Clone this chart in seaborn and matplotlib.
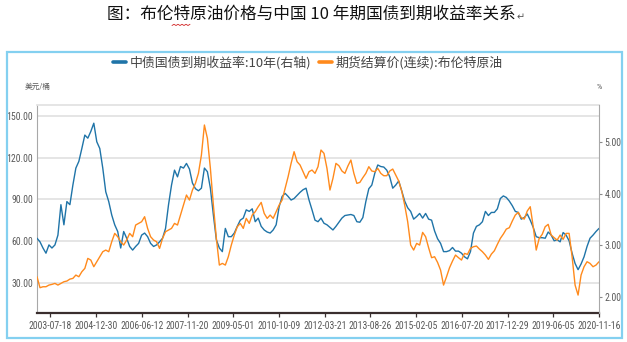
import numpy as np
import pandas as pd
import matplotlib
matplotlib.use("Agg")
import matplotlib.pyplot as plt
import matplotlib.dates as mdates
from matplotlib import font_manager as fm
from matplotlib.lines import Line2D
from matplotlib.patches import Rectangle
from matplotlib.font_manager import FontProperties
import seaborn as sns

# ---------------- data ----------------
title = "图：布伦特原油价格与中国 10 年期国债到期收益率关系"
name_yield = "中债国债到期收益率:10年(右轴)"
name_brent = "期货结算价(连续):布伦特原油"
left_unit = "美元/桶"
right_unit = "%"
start_date = "2003-02-18"
end_date = "2020-11-16"
tick_dates = ["2003-07-18", "2004-12-30", "2006-06-12", "2007-11-20", "2009-05-01",
              "2010-10-09", "2012-03-21", "2013-08-26", "2015-02-05", "2016-07-20",
              "2017-12-29", "2019-06-05", "2020-11-16"]
left_ticks = [30, 60, 90, 120, 150]
right_ticks = [2, 3, 4, 5]

yield_10y = [
    3.14, 3.07, 2.95, 2.85, 3.01, 2.95, 3.01, 3.20, 3.79, 3.40,
    3.85, 3.79, 4.17, 4.50, 4.63, 4.88, 5.14, 5.08, 5.21, 5.37,
    5.01, 4.88, 4.50, 4.04, 3.85, 3.59, 3.40, 3.27, 2.95, 3.27,
    3.14, 2.98, 2.91, 2.98, 3.04, 3.20, 3.24, 3.17, 3.04, 2.98,
    3.01, 3.07, 3.14, 3.33, 3.79, 4.17, 4.46, 4.33, 4.53, 4.50,
    4.59, 4.48, 4.21, 4.10, 4.06, 4.11, 4.50, 4.43, 4.11, 3.59,
    3.11, 2.95, 2.88, 3.33, 3.17, 3.17, 3.24, 3.37, 3.49, 3.53,
    3.69, 3.66, 3.71, 3.46, 3.53, 3.37, 3.30, 3.26, 3.24, 3.30,
    3.40, 3.75, 3.95, 4.01, 3.95, 3.88, 3.91, 3.97, 4.03, 4.08,
    4.11, 3.88, 3.69, 3.49, 3.46, 3.53, 3.43, 3.40, 3.35, 3.30,
    3.37, 3.45, 3.53, 3.58, 3.59, 3.60, 3.58, 3.46, 3.45, 3.54,
    3.85, 4.10, 4.17, 4.40, 4.56, 4.53, 4.52, 4.46, 4.33, 4.11,
    4.17, 4.25, 4.06, 3.86, 3.73, 3.66, 3.51, 3.56, 3.62, 3.53,
    3.62, 3.51, 3.49, 3.28, 3.13, 3.04, 2.88, 2.88, 2.90, 2.96,
    2.89, 2.89, 2.85, 2.78, 2.74, 2.88, 3.24, 3.37, 3.40, 3.46,
    3.66, 3.58, 3.64, 3.64, 3.71, 3.91, 3.96, 3.93, 3.86, 3.77,
    3.66, 3.64, 3.51, 3.54, 3.61, 3.49, 3.35, 3.17, 3.15, 3.15,
    3.14, 3.26, 3.20, 3.09, 3.11, 3.07, 3.25, 3.20, 3.09, 2.85,
    2.65, 2.53, 2.64, 2.78, 2.98, 3.14, 3.20, 3.27, 3.33,
]

brent = [
    34.3, 26.4, 27.1, 27.1, 28.3, 28.8, 29.5, 28.3, 29.5, 30.7,
    31.2, 32.6, 33.1, 35.5, 34.3, 37.9, 40.3, 47.5, 46.3, 41.5,
    45.1, 48.7, 52.3, 53.5, 52.3, 59.5, 65.5, 63.1, 59.5, 57.1,
    60.7, 65.5, 63.1, 71.5, 72.7, 73.9, 77.5, 69.1, 63.1, 60.7,
    59.5, 54.7, 61.9, 66.7, 67.9, 69.1, 72.7, 71.5, 78.7, 85.9,
    93.1, 89.5, 96.7, 101.5, 108.7, 121.9, 143.5, 133.9, 112.3, 85.9,
    61.9, 42.7, 43.9, 42.7, 48.7, 57.1, 64.3, 70.3, 72.7, 69.1,
    76.3, 72.7, 78.7, 81.1, 84.7, 87.8, 79.9, 76.3, 78.7, 76.3,
    81.1, 85.9, 89.5, 97.9, 106.3, 115.9, 124.3, 117.1, 114.7, 109.9,
    105.1, 109.9, 111.1, 108.7, 113.5, 125.5, 123.1, 112.3, 96.7, 105.1,
    115.9, 114.2, 110.4, 108.7, 114.0, 118.3, 108.7, 101.5, 102.2, 105.6,
    108.7, 113.5, 110.4, 109.9, 112.3, 108.7, 107.0, 107.0, 110.4, 111.8,
    107.5, 103.2, 96.0, 85.9, 73.9, 57.1, 53.5, 58.3, 57.1, 66.2,
    63.1, 55.2, 48.0, 48.7, 44.6, 39.1, 28.3, 34.3, 40.8, 45.6,
    49.9, 48.0, 46.3, 51.1, 50.4, 54.7, 55.9, 56.4, 54.2, 52.3,
    49.9, 46.8, 50.6, 53.0, 57.6, 61.9, 65.0, 68.6, 69.6, 74.4,
    78.7, 80.6, 76.8, 75.8, 81.6, 84.7, 70.3, 53.5, 61.9, 64.8,
    70.3, 72.0, 64.3, 62.4, 60.7, 64.3, 61.2, 65.5, 65.5, 48.7,
    28.3, 21.1, 35.5, 41.5, 45.1, 43.9, 41.5, 42.7, 45.1,
]

dates = pd.date_range(start_date, end_date, periods=len(brent))
df = pd.DataFrame({"date": dates, "brent": brent, "yield": yield_10y})

# ---------------- fonts ----------------
sns.set_theme(style="white")
CJK = ["Noto Sans CJK SC", "DejaVu Sans"]


def pick_narrow():
    for fam in ["Liberation Sans Narrow", "Roboto Condensed", "Open Sans Condensed",
                "Noto Sans Condensed", "DejaVu Sans Condensed"]:
        try:
            fm.findfont(FontProperties(family=fam), fallback_to_default=False)
            return dict(family=[fam, "DejaVu Sans"], stretch="normal"), 1.0
        except Exception:
            pass
    try:
        p = fm.findfont(FontProperties(family="DejaVu Sans", stretch="condensed"))
        if "Condensed" in p:
            return dict(family=["DejaVu Sans"], stretch="condensed"), 0.95
    except Exception:
        pass
    return dict(family=["Liberation Sans", "DejaVu Sans"], stretch="normal"), 0.8


TICKFONT, SCALE = pick_narrow()
plt.rcParams["font.family"] = TICKFONT["family"]
plt.rcParams["font.stretch"] = TICKFONT["stretch"]

BLUE = "#1f74a8"
ORANGE = "#ff8a1c"

fig = plt.figure(figsize=(6.27, 3.42), dpi=100)
W, H = 627.0, 342.0

ax = fig.add_axes([37 / W, 1 - 313 / H, (599 - 37) / W, (313 - 105) / H])
ax2 = ax.twinx()   # yield (right axis)
ax3 = ax.twinx()   # brent drawn on top, same scale as left axis

sns.lineplot(data=df, x="date", y="yield", ax=ax2, color=BLUE, lw=1.0, legend=False)
sns.lineplot(data=df, x="date", y="brent", ax=ax3, color=ORANGE, lw=1.0, legend=False)

ylim_left = (8.2, 157.9)
ylim_right = (1.69, 5.723)
ax.set_ylim(*ylim_left)
ax3.set_ylim(*ylim_left)
ax2.set_ylim(*ylim_right)

xl = (mdates.date2num(pd.Timestamp(start_date)), mdates.date2num(pd.Timestamp(end_date)))
for a in (ax, ax2, ax3):
    a.set_xlim(*xl)
ax3.set_axis_off()

ysize = 7.0 * SCALE
xsize = 7.0 * SCALE

# left axis
ax.set_yticks(left_ticks)
ax.set_yticklabels([f"{v:.2f}" for v in left_ticks])
ax.yaxis.grid(True, color="#e3e3e3", lw=1.3)
ax.xaxis.grid(False)
ax.set_axisbelow(True)
ax.tick_params(axis="y", length=0, pad=3.0, labelsize=ysize, labelcolor="#5a5a5a")

# x axis
tick_nums = [mdates.date2num(pd.Timestamp(d)) for d in tick_dates]
ax.set_xticks(tick_nums)
ax.set_xticklabels(tick_dates)
ax.tick_params(axis="x", length=3, width=0.9, color="#3a3030", pad=3,
               labelsize=xsize, labelcolor="#5a5a5a", bottom=True)
ax2.tick_params(axis="x", bottom=False, labelbottom=False)

# right axis
ax2.set_yticks(right_ticks)
ax2.set_yticklabels([f"{v:.2f}" for v in right_ticks])
ax2.tick_params(axis="y", right=True, length=2.5, width=0.8, color="#8a8a8a",
                pad=1.5, labelsize=ysize, labelcolor="#5a5a5a")
for a in (ax, ax2):
    a.set_xlabel("")
    a.set_ylabel("")

# spines
ax.spines["left"].set_color("#a8a8a8")
ax.spines["left"].set_linewidth(0.8)
ax.spines["top"].set_color("#e3e3e3")
ax.spines["top"].set_linewidth(1.3)
ax.spines["bottom"].set_color("#3a2e2e")
ax.spines["bottom"].set_linewidth(1.6)
ax.spines["right"].set_visible(False)
for s in ("left", "top", "bottom"):
    ax2.spines[s].set_visible(False)
ax2.spines["right"].set_color("#a8a8a8")
ax2.spines["right"].set_linewidth(0.8)

# units
fig.text(25 / W, 1 - 87 / H, left_unit, ha="left", va="center", fontsize=5.5,
         color="#5a5a5a", family=CJK)
fig.text(599 / W, 1 - 87 / H, right_unit, ha="center", va="center", fontsize=6,
         color="#5a5a5a")

# legend
handles = [Line2D([], [], color=BLUE, lw=2.6), Line2D([], [], color=ORANGE, lw=2.6)]
fig.legend(handles, [name_yield, name_brent], loc="center",
           bbox_to_anchor=(308 / W, 1 - 63 / H), ncol=2, frameon=False,
           prop=FontProperties(family=CJK, size=9.3), labelcolor="#444444",
           handlelength=1.0, handletextpad=0.3, columnspacing=0.6,
           borderaxespad=0, borderpad=0)

# title
fig.text(107 / W, 1 - 14.5 / H, title, ha="left", va="center", fontsize=12,
         color="#111111", family=CJK, fontweight="medium")
fig.text(517 / W, 1 - 17 / H, "↵", ha="left", va="center", fontsize=7,
         color="#555555", family=["DejaVu Sans"])

# spell-check squiggle under 伦特
sq_x = [172, 174, 176, 178, 180, 182, 184, 186, 188, 190]
sq_y = [25.5, 24.3, 25.5, 24.3, 25.5, 24.3, 25.5, 24.3, 25.5, 24.3]
fig.add_artist(Line2D([x / W for x in sq_x], [1 - y / H for y in sq_y],
                      transform=fig.transFigure, color="#d02020", lw=0.6))

# outer light-blue frame
fig.add_artist(Rectangle((7 / W, 1 - 338 / H), (622 - 7) / W, (338 - 52) / H,
                         transform=fig.transFigure, fill=False,
                         edgecolor="#84d0f0", lw=1.6))

fig.savefig("out.png", dpi=100)
